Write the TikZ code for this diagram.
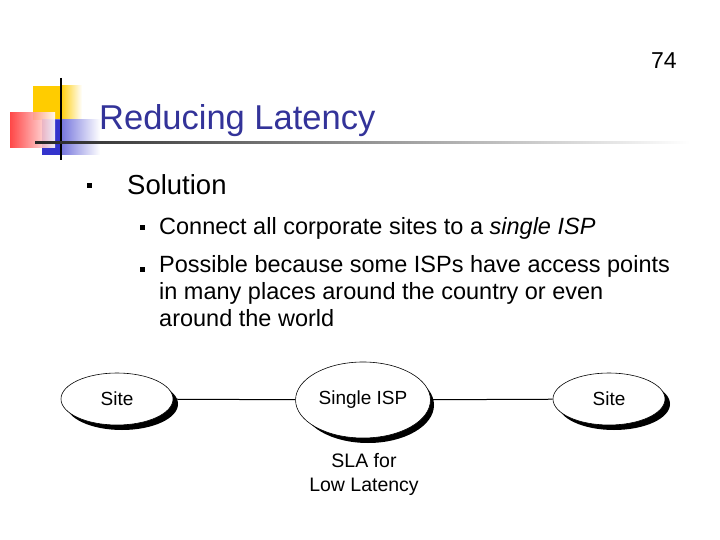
\documentclass[tikz,border=0pt]{standalone}
\usepackage{fontspec}
\setmainfont{Liberation Sans}
\usetikzlibrary{shapes.geometric}
\definecolor{navy}{HTML}{333399}
\definecolor{ylw}{HTML}{FFCC00}
\definecolor{blu}{HTML}{3333CC}
\definecolor{rd}{HTML}{FF3333}
\begin{document}
\begin{tikzpicture}[x=1pt,y=-1pt,
  el/.style={ellipse,draw,fill=white,line width=0.6pt,font=\fontsize{19}{22}\selectfont},
  bul/.style={fill=black,minimum size=5pt,inner sep=0pt},
  txt/.style={anchor=base west,inner sep=0pt}]
\useasboundingbox (0,0) rectangle (720,540);
% logo
\fill[ylw] (33,86) rectangle (80,120);
\shade[left color=ylw,right color=white] (60,86) rectangle (82,120);
\shade[left color=blu,right color=white] (42,120) rectangle (100,155);
\fill[blu] (42,120) rectangle (62,155);
\shade[left color=rd,right color=white,opacity=0.9] (10,113) rectangle (55,148);
\draw[line width=2pt] (61,78) -- (61,160);
\shade[left color=black!85,right color=white] (35,141.5) rectangle (690,144);
\node[txt,text=navy,font=\fontsize{34.5}{38}\selectfont] (title) at (99,130) {Reducing Latency};
\node[txt,font=\fontsize{23}{26}\selectfont] (pg) at (651,69) {74};
\node[bul] (b1) at (89,186) {};
\node[txt,font=\fontsize{27.5}{30}\selectfont] (s) at (127,195) {Solution};
\node[bul] (b2) at (142,228) {};
\node[txt,font=\fontsize{23.5}{27}\selectfont] (t1) at (159,235) {Connect all corporate sites to a \textit{single ISP}};
\node[bul] (b3) at (142,269) {};
\node[txt,font=\fontsize{23.5}{27}\selectfont,align=left,anchor=north west] (t2) at (159,255) {Possible because some ISPs have access points\\in many places around the country or even\\around the world};
% ellipses
\fill (122,404) ellipse (56 and 26);
\node[el,minimum width=112pt,minimum height=52pt] (a) at (117,399) {Site};
\fill (368,405) ellipse (66 and 38);
\node[el,minimum width=132pt,minimum height=76pt] (isp) at (363,400) {Single ISP};
\fill (614,404) ellipse (56 and 26);
\node[el,minimum width=112pt,minimum height=52pt] (b) at (609,399) {Site};
\draw[line width=1pt] (a) -- (isp);
\draw[line width=1pt] (isp) -- (b);
\node[align=center,font=\fontsize{19.5}{24}\selectfont] (sla) at (364,474) {SLA for\\Low Latency};
\end{tikzpicture}
\end{document}
